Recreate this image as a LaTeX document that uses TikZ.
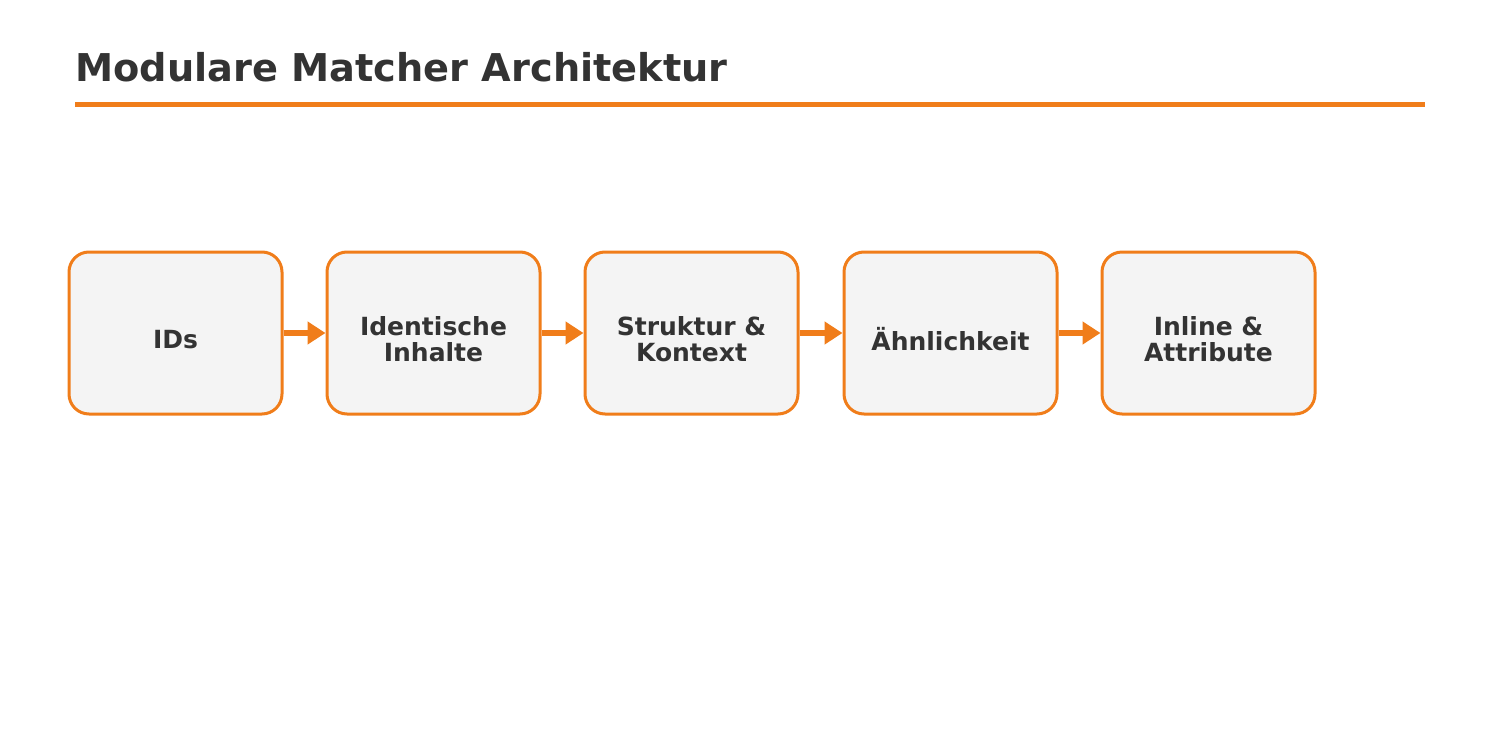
\documentclass[tikz,border=0pt]{standalone}
\usepackage{fontspec}
\setmainfont{DejaVu Sans}
\usetikzlibrary{arrows.meta}
\definecolor{orng}{HTML}{F07D1A}
\definecolor{txt}{HTML}{333333}
\definecolor{boxfill}{HTML}{F4F4F4}
\begin{document}
\begin{tikzpicture}[x=1pt,y=-1pt,
  stagebox/.style={draw=orng,line width=3pt,fill=boxfill,rounded corners=20pt,
    minimum width=213pt,minimum height=162pt,inner sep=0pt},
  stagetext/.style={font=\fontsize{25}{26}\selectfont\bfseries,text=txt,align=center,inner sep=0pt,yshift=-6.5pt},
  flow/.style={draw=orng,line width=5.5pt,-{Triangle[length=18pt,width=22pt]}}]
\useasboundingbox (0,0) rectangle (1500,750);
\node[anchor=base west,font=\fontsize{38.3}{46}\selectfont\bfseries,text=txt,inner sep=0pt] (title) at (75,81.5) {Modulare Matcher Architektur};
\coordinate (l1) at (75,104.5);
\coordinate (l2) at (1425,104.5);
\draw[orng,line width=5pt] (l1) -- (l2);
\node[stagebox] (b1) at (175.5,333) {};
\node[stagebox] (b2) at (433.5,333) {};
\node[stagebox] (b3) at (691.5,333) {};
\node[stagebox] (b4) at (950.5,333) {};
\node[stagebox] (b5) at (1208.5,333) {};
\node[stagetext] (t1) at (b1.center) {IDs};
\node[stagetext] (t2) at (b2.center) {Identische\\Inhalte};
\node[stagetext] (t3) at (b3.center) {Struktur \&\\Kontext};
\node[stagetext] (t4) at (b4.center) {Ähnlichkeit};
\node[stagetext] (t5) at (b5.center) {Inline \&\\Attribute};
\draw[flow] (b1.east) -- (b2.west);
\draw[flow] (b2.east) -- (b3.west);
\draw[flow] (b3.east) -- (b4.west);
\draw[flow] (b4.east) -- (b5.west);
\end{tikzpicture}
\end{document}
